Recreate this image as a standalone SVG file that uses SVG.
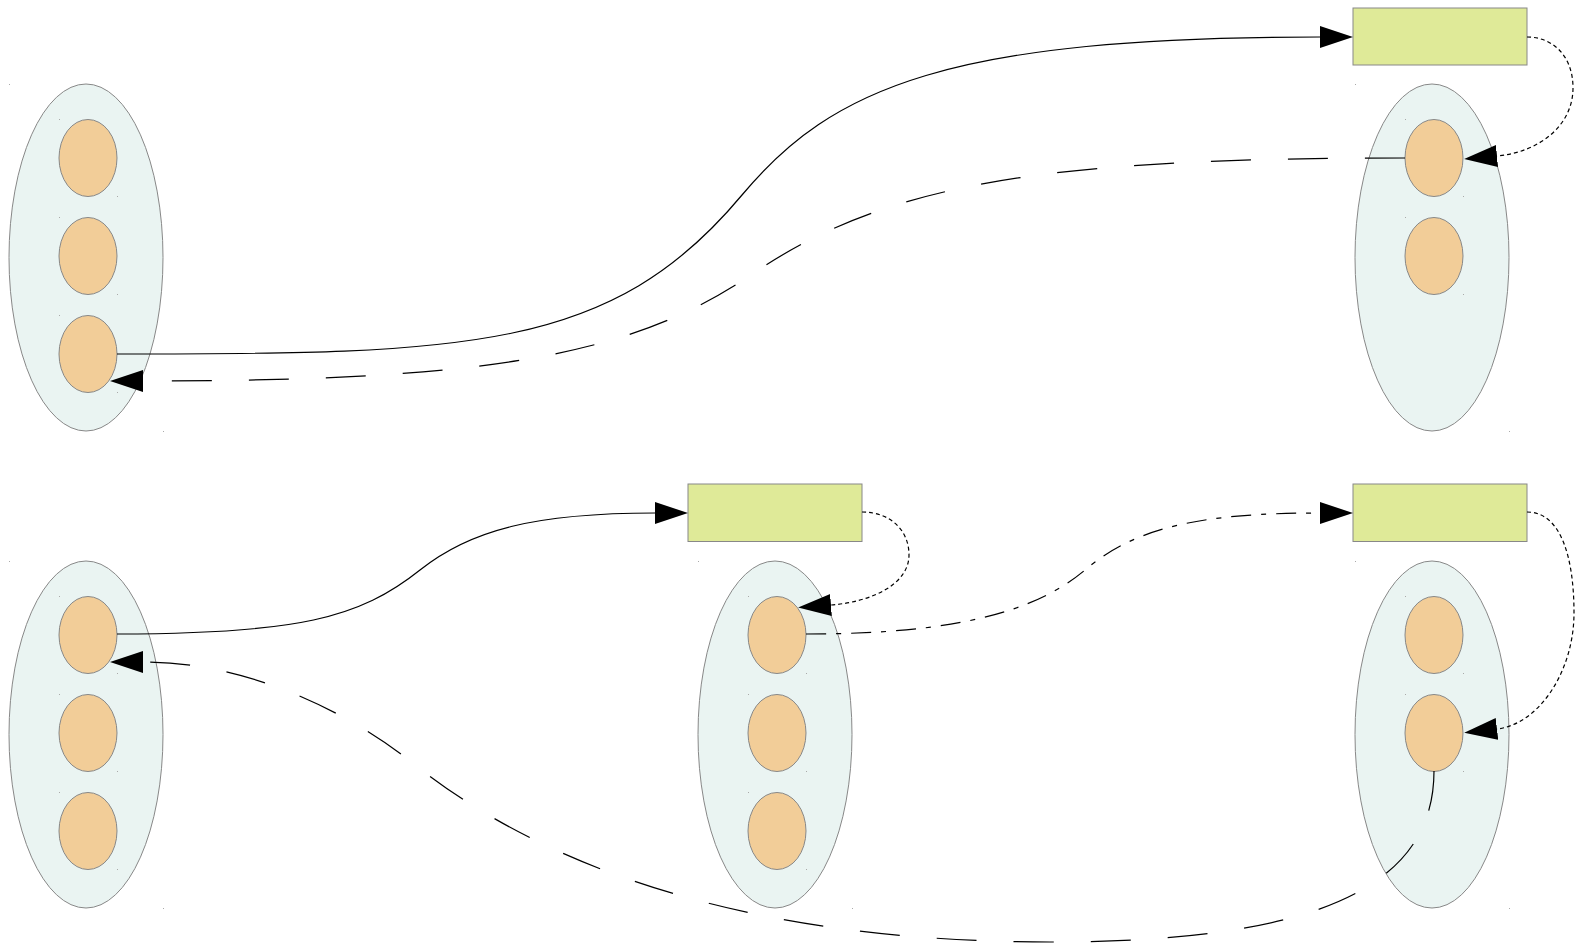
<svg xmlns="http://www.w3.org/2000/svg" width="1575" height="943" viewBox="0 0 1575 943">
<style>
.big{fill:#eaf4f2;stroke:#888;stroke-width:1}
.in{fill:#f2cd98;stroke:#888;stroke-width:1}
.box{fill:#dfea98;stroke:#888;stroke-width:1}
.dot{fill:#aaa}
.c{fill:none;stroke:#000;stroke-width:1.2}
.dash{stroke-dasharray:40,37}
.dots{stroke-dasharray:4,3}
.dd{stroke-dasharray:20,10,5,10}
</style>
<defs>
<marker id="arr" markerUnits="userSpaceOnUse" viewBox="0 0 33 22" markerWidth="33" markerHeight="22" refX="0" refY="11" orient="auto">
<path d="M0,0 L33,11 L0,22 Z" fill="#000"/>
</marker>
</defs>
<g id="group-top-left">
<ellipse class="big" cx="86" cy="257.5" rx="77" ry="173.5"/>
<rect class="dot" x="9" y="84" width="1" height="1"/><rect class="dot" x="163" y="431" width="1" height="1"/>
<g id="tl-1"><ellipse class="in" cx="88" cy="158" rx="29" ry="38.5"/><rect class="dot" x="59" y="119" width="1" height="1"/><rect class="dot" x="117" y="196" width="1" height="1"/></g>
<g id="tl-2"><ellipse class="in" cx="88" cy="256" rx="29" ry="38.5"/><rect class="dot" x="59" y="217" width="1" height="1"/><rect class="dot" x="117" y="294" width="1" height="1"/></g>
<g id="tl-3"><ellipse class="in" cx="88" cy="354" rx="29" ry="38.5"/><rect class="dot" x="59" y="315" width="1" height="1"/><rect class="dot" x="117" y="392" width="1" height="1"/></g>
</g>
<g id="group-top-right">
<ellipse class="big" cx="1432" cy="257.5" rx="77" ry="173.5"/>
<rect class="dot" x="1355" y="84" width="1" height="1"/><rect class="dot" x="1509" y="431" width="1" height="1"/>
<g id="tr-1"><ellipse class="in" cx="1434" cy="158" rx="29" ry="38.5"/><rect class="dot" x="1405" y="119" width="1" height="1"/><rect class="dot" x="1463" y="196" width="1" height="1"/></g>
<g id="tr-2"><ellipse class="in" cx="1434" cy="256" rx="29" ry="38.5"/><rect class="dot" x="1405" y="217" width="1" height="1"/><rect class="dot" x="1463" y="294" width="1" height="1"/></g>
</g>
<g id="box-top-right"><rect class="box" x="1353" y="8" width="174" height="57"/></g>
<g id="group-bottom-left">
<ellipse class="big" cx="86" cy="734.5" rx="77" ry="173.5"/>
<rect class="dot" x="9" y="561" width="1" height="1"/><rect class="dot" x="163" y="908" width="1" height="1"/>
<g id="bl-1"><ellipse class="in" cx="88" cy="635" rx="29" ry="38.5"/><rect class="dot" x="59" y="596" width="1" height="1"/><rect class="dot" x="117" y="673" width="1" height="1"/></g>
<g id="bl-2"><ellipse class="in" cx="88" cy="733" rx="29" ry="38.5"/><rect class="dot" x="59" y="694" width="1" height="1"/><rect class="dot" x="117" y="771" width="1" height="1"/></g>
<g id="bl-3"><ellipse class="in" cx="88" cy="831" rx="29" ry="38.5"/><rect class="dot" x="59" y="792" width="1" height="1"/><rect class="dot" x="117" y="869" width="1" height="1"/></g>
</g>
<g id="group-bottom-middle">
<ellipse class="big" cx="775" cy="734.5" rx="77" ry="173.5"/>
<rect class="dot" x="698" y="561" width="1" height="1"/><rect class="dot" x="852" y="908" width="1" height="1"/>
<g id="bm-1"><ellipse class="in" cx="777" cy="635" rx="29" ry="38.5"/><rect class="dot" x="748" y="596" width="1" height="1"/><rect class="dot" x="806" y="673" width="1" height="1"/></g>
<g id="bm-2"><ellipse class="in" cx="777" cy="733" rx="29" ry="38.5"/><rect class="dot" x="748" y="694" width="1" height="1"/><rect class="dot" x="806" y="771" width="1" height="1"/></g>
<g id="bm-3"><ellipse class="in" cx="777" cy="831" rx="29" ry="38.5"/><rect class="dot" x="748" y="792" width="1" height="1"/><rect class="dot" x="806" y="869" width="1" height="1"/></g>
</g>
<g id="box-bottom-middle"><rect class="box" x="688" y="484" width="174" height="57.5"/></g>
<g id="group-bottom-right">
<ellipse class="big" cx="1432" cy="734.5" rx="77" ry="173.5"/>
<rect class="dot" x="1355" y="561" width="1" height="1"/><rect class="dot" x="1509" y="908" width="1" height="1"/>
<g id="br-1"><ellipse class="in" cx="1434" cy="635" rx="29" ry="38.5"/><rect class="dot" x="1405" y="596" width="1" height="1"/><rect class="dot" x="1463" y="673" width="1" height="1"/></g>
<g id="br-2"><ellipse class="in" cx="1434" cy="733" rx="29" ry="38.5"/><rect class="dot" x="1405" y="694" width="1" height="1"/><rect class="dot" x="1463" y="771" width="1" height="1"/></g>
</g>
<g id="box-bottom-right"><rect class="box" x="1353" y="484" width="174" height="57.5"/></g>
<g id="connectors">
<path class="c" d="M117,354 C468,354 612,351 742,195 C832,87 950,37 1320,37" marker-end="url(#arr)"/>
<path class="c dots" d="M1527,37 C1552,37 1573,55 1573,88 C1573,125 1540,152 1497,156" marker-end="url(#arr)"/>
<path class="c dash" d="M1405,158 C1055,158 889,181 754,273 C634,355 493,381 143,381" marker-end="url(#arr)"/>
<path class="c" d="M117,634 C297,634 360,618 420,570 C470,530 535,513 655,513" marker-end="url(#arr)"/>
<path class="c dots" d="M862,512 C890,512 909,530 909,555 C909,585 870,602 831,605" marker-end="url(#arr)"/>
<path class="c dd" d="M806,634 C955,634 1035,612 1085,570 C1135,527.5 1200,513 1320,513" marker-end="url(#arr)"/>
<path class="c dots" d="M1527,512 C1562,512 1574,560 1574,613 C1574,670 1540,724 1497,729" marker-end="url(#arr)"/>
<path class="c dash" d="M1434,771 C1434,890 1310,942 1050,942 C750,942 544,868 414,764 C354,716 253,662 143,662" marker-end="url(#arr)"/>
</g>
</svg>
